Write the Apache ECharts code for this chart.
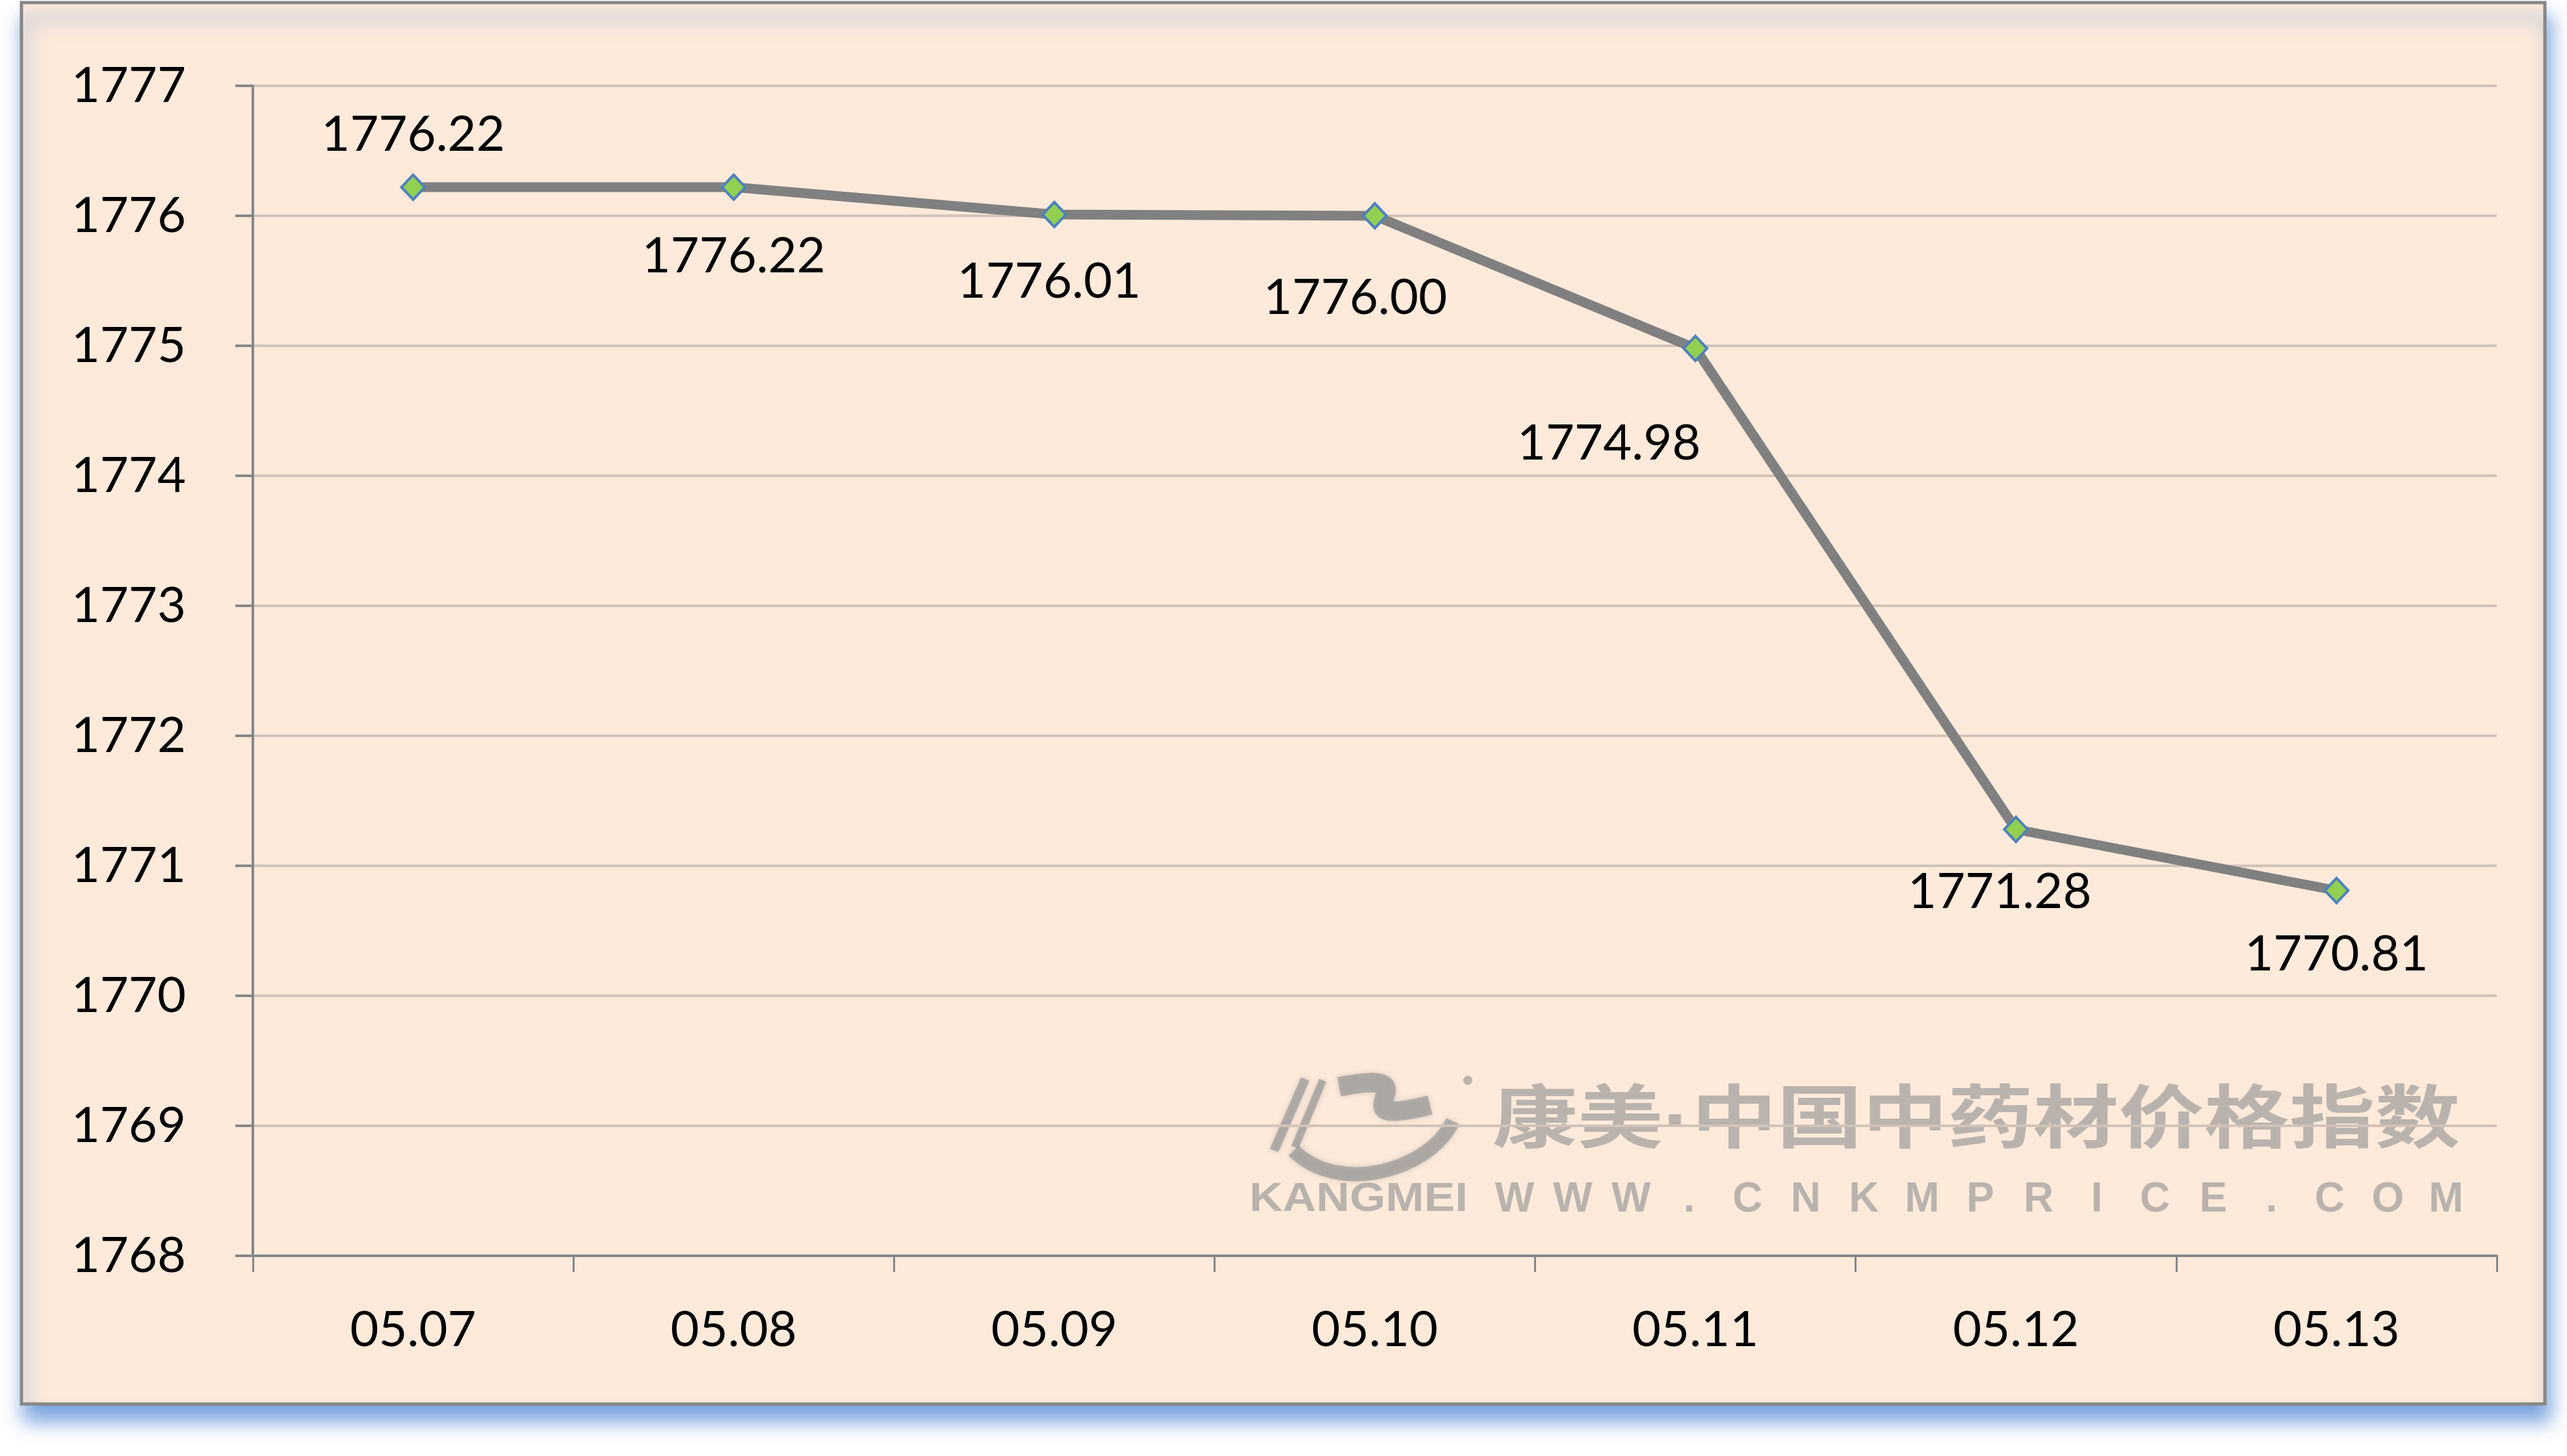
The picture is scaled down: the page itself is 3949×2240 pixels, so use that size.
<!DOCTYPE html>
<html><head><meta charset="utf-8">
<script src="https://cdn.jsdelivr.net/npm/echarts@6/dist/echarts.min.js"></script>
<style>html,body{margin:0;padding:0;background:#fff}#c{width:3949px;height:2240px}</style>
</head><body><div id="c"></div>
<script>
// ---- data ----
const categories = ['05.07', '05.08', '05.09', '05.10', '05.11', '05.12', '05.13'];
const indexValues = [1776.22, 1776.22, 1776.01, 1776.00, 1774.98, 1771.28, 1770.81];
const yMin = 1768;
const yMax = 1777;
const yInterval = 1;
const watermarkTitle = '康美·中国中药材价格指数';
const watermarkBrand = 'KANGMEI';
const watermarkUrl = 'WWW.CNKMPRICE.COM';

// ---- style: per-point label placement (like the hand-placed labels of the original) ----
const labelOffsets = [[0, -81], [0, 106], [-8, 103], [-30, 126], [-133, 146], [-25, 96], [0, 98]];

const FONT = 'Lato, "Open Sans", sans-serif';
const WM = 'rgba(145,145,145,0.62)';

const urlChars = watermarkUrl.split('');
const urlStart = 2330, urlEnd = 3763;
const urlStep = (urlEnd - urlStart) / (urlChars.length - 1);

const wmElements = [
  { type: 'text', x: 3785, y: 1728, scaleX: 1.24, z: -5, silent: true,
    style: { text: watermarkTitle, font: 'bold 106px "Liberation Sans", "Noto Sans CJK SC"', fill: WM, align: 'right', verticalAlign: 'middle', shadowBlur: 8, shadowColor: WM } },
  { type: 'text', x: 2090, y: 1846, scaleX: 1.13, z: -5, silent: true,
    style: { text: watermarkBrand, font: 'bold 63px "Liberation Sans"', fill: WM, align: 'center', verticalAlign: 'middle', shadowBlur: 6, shadowColor: WM } },
  // logo (approximate)
  { type: 'line', z: -5, silent: true, shape: { x1: 1960, y1: 1770, x2: 2008, y2: 1660 }, style: { stroke: WM, lineWidth: 14, shadowBlur: 8, shadowColor: WM } },
  { type: 'line', z: -5, silent: true, shape: { x1: 1992, y1: 1765, x2: 2035, y2: 1662 }, style: { stroke: WM, lineWidth: 12, shadowBlur: 8, shadowColor: WM } },
  { type: 'bezierCurve', z: -5, silent: true, shape: { x1: 2060, y1: 1672, x2: 2200, y2: 1700, cpx1: 2220, cpy1: 1640, cpx2: 2040, cpy2: 1740 }, style: { stroke: WM, lineWidth: 30, fill: null, shadowBlur: 8, shadowColor: WM } },
  { type: 'bezierCurve', z: -5, silent: true, shape: { x1: 1990, y1: 1770, x2: 2235, y2: 1725, cpx1: 2060, cpy1: 1840, cpx2: 2200, cpy2: 1800 }, style: { stroke: WM, lineWidth: 22, fill: null, shadowBlur: 8, shadowColor: WM } },
  { type: 'circle', z: -5, silent: true, shape: { cx: 2258, cy: 1662, r: 7 }, style: { fill: WM } }
];
urlChars.forEach((ch, i) => {
  wmElements.push({ type: 'text', x: urlStart + i * urlStep, y: 1846, z: -5, silent: true,
    style: { text: ch, font: 'bold 64px "Liberation Sans"', fill: WM, align: 'center', verticalAlign: 'middle', shadowBlur: 6, shadowColor: WM } });
});

const chart = echarts.init(document.getElementById('c'), null, { renderer: 'canvas' });
chart.setOption({
  backgroundColor: '#ffffff',
  animation: false,
  graphic: [
    { type: 'rect', z: -10, silent: true,
      shape: { x: 33, y: 4, width: 3882, height: 2156 },
      style: { fill: '#FDEADA', stroke: '#878787', lineWidth: 5,
        shadowBlur: 28, shadowColor: 'rgba(95,145,215,0.85)', shadowOffsetX: 6, shadowOffsetY: 24 } },
    ...wmElements
  ],
  grid: { left: 389, right: 108, top: 132, bottom: 308, containLabel: false },
  xAxis: {
    type: 'category',
    data: categories,
    boundaryGap: true,
    axisLine: { show: true, lineStyle: { color: '#878787', width: 4 } },
    axisTick: { show: true, length: 25, inside: false, alignWithLabel: false, lineStyle: { color: '#878787', width: 3 } },
    axisLabel: { fontFamily: FONT, fontSize: 76, color: '#000', margin: 76 },
    splitLine: { show: false }
  },
  yAxis: {
    type: 'value',
    min: yMin, max: yMax, interval: yInterval,
    axisLine: { show: true, lineStyle: { color: '#878787', width: 4 } },
    axisTick: { show: true, length: 27, inside: false, lineStyle: { color: '#878787', width: 4 } },
    axisLabel: { fontFamily: FONT, fontSize: 76, color: '#000', margin: 103, formatter: v => String(v) },
    splitLine: { show: true, lineStyle: { color: '#D2C3B8', width: 4 } }
  },
  series: [{
    type: 'line',
    data: indexValues.map((v, i) => ({ value: v, label: { offset: labelOffsets[i] } })),
    lineStyle: { color: '#808080', width: 15 },
    symbol: 'diamond',
    symbolSize: [36, 38],
    showSymbol: true,
    itemStyle: { color: '#92D050', borderColor: '#4F81BD', borderWidth: 4 },
    label: {
      show: true, position: 'inside', fontFamily: FONT, fontSize: 76, color: '#000',
      formatter: p => p.value.toFixed(2)
    },
    z: 3
  }]
});
</script></body></html>
